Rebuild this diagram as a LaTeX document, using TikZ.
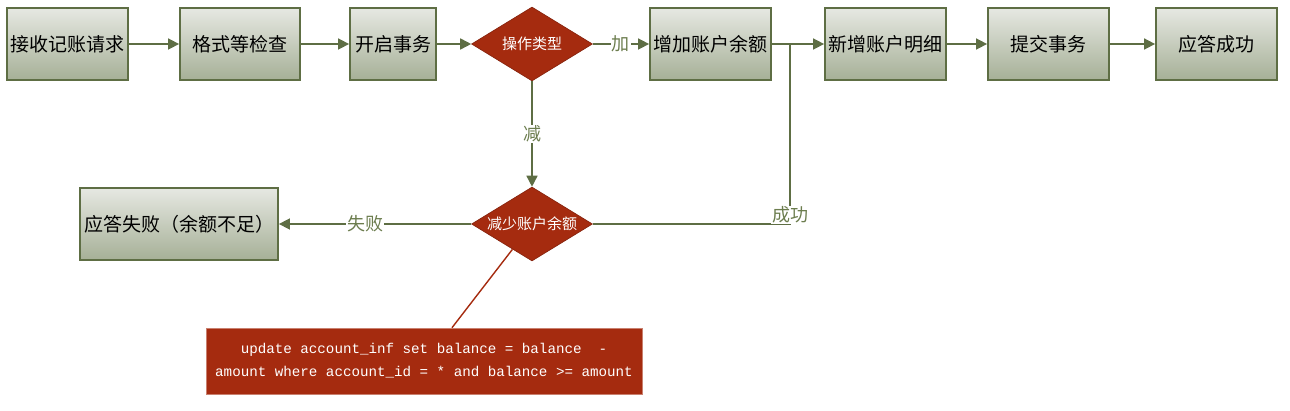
\documentclass[tikz,border=0pt]{standalone}
\usepackage{fontspec}
\usepackage{graphicx}
\setmainfont{Noto Sans CJK SC}
\newfontfamily\sqlfont{Liberation Mono}
\usetikzlibrary{shapes.geometric,arrows.meta}
\definecolor{olive}{HTML}{5E6E44}
\definecolor{lbl}{HTML}{6C7D4E}
\definecolor{boxtop}{HTML}{E6E8E2}
\definecolor{boxbot}{HTML}{A6B097}
\definecolor{rust}{HTML}{A52B0F}
\tikzset{
  stepbox/.style={draw=olive, line width=1.8pt, top color=boxtop, bottom color=boxbot,
    minimum height=72pt, inner sep=0pt, font=\fontsize{19}{21}\selectfont, text=black},
  decide/.style={diamond, fill=rust, draw=rust!80!black, line width=0.6pt, shape aspect=1.6,
    minimum width=121pt, minimum height=74pt, inner sep=0pt, text=white,
    font=\fontsize{15}{17}\selectfont},
  flow/.style={draw=olive, line width=1.6pt, -{Triangle[width=11pt,length=11pt]}},
  plain/.style={draw=olive, line width=1.6pt},
  lab/.style={fill=white, inner sep=1pt, text=lbl, font=\fontsize{18}{20}\selectfont},
}
\begin{document}
\begin{tikzpicture}[x=1pt,y=-1pt]
\useasboundingbox (0,0) rectangle (1290,411);
\node[stepbox, minimum width=121pt] (b1) at (67.5,44) {接收记账请求};
\node[stepbox, minimum width=120pt] (b2) at (240,44) {格式等检查};
\node[stepbox, minimum width=86pt] (b3) at (393,44) {开启事务};
\node[decide] (d1) at (532,44) {操作类型};
\node[stepbox, minimum width=121pt] (b4) at (710.5,44) {增加账户余额};
\node[stepbox, minimum width=121pt] (b5) at (885.5,44) {新增账户明细};
\node[stepbox, minimum width=121pt] (b6) at (1048.5,44) {提交事务};
\node[stepbox, minimum width=121pt] (b7) at (1216.5,44) {应答成功};
\node[decide] (d2) at (532,224) {减少账户余额};
\node[stepbox, minimum width=198pt] (fail) at (179,224) {应答失败（余额不足）};
\node[fill=rust, draw=rust!60!white, line width=0.6pt, minimum width=436pt, minimum height=66pt,
  inner sep=0pt, text=white, align=center, font=\sqlfont\fontsize{14.2}{23}\selectfont] (sql) at (424,361)
  {update account\_inf set balance = balance \ -\\amount where account\_id = * and balance >= amount};
\coordinate (j) at (790,44);
\coordinate (jc) at (790,224);
\draw[flow] (b1) -- (b2);
\draw[flow] (b2) -- (b3);
\draw[flow] (b3) -- (d1);
\draw[flow] (d1) -- node[lab, pos=0.5] {加} (b4);
\draw[flow] (b4) -- (b5);
\draw[flow] (b5) -- (b6);
\draw[flow] (b6) -- (b7);
\draw[flow] (d1) -- node[lab, pos=0.5] {减} (d2);
\draw[flow] (d2) -- node[lab, pos=0.55] {失败} (fail);
\draw[plain] (d2) -- (jc) -- (j);
\node[lab] (ok) at (790,215) {成功};
\draw[draw=rust, line width=1.4pt] (d2) -- ([xshift=28pt]sql.north);
\end{tikzpicture}
\end{document}
